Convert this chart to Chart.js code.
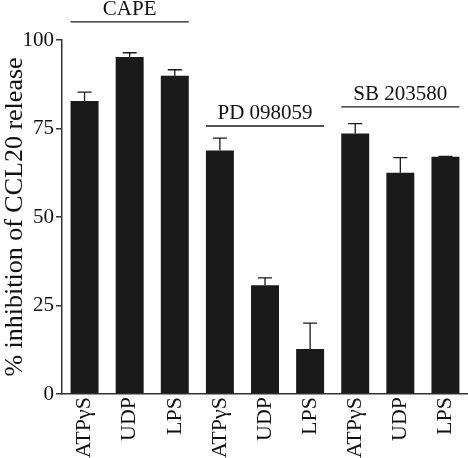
<!DOCTYPE html>
<html>
<head>
<meta charset="utf-8">
<script src="https://cdn.jsdelivr.net/npm/chart.js@4"></script>
<style>
  html, body { margin: 0; padding: 0; background: #fff; }
  #wrap { width: 468px; height: 458px; }
</style>
</head>
<body>
<div id="wrap"><canvas id="chart"></canvas></div>
<script>
const categories = ["ATPγS", "UDP", "LPS", "ATPγS", "UDP", "LPS", "ATPγS", "UDP", "LPS"];
const inhibition = [82.8, 95.2, 89.9, 68.8, 30.7, 12.7, 73.6, 62.5, 67.0];
const errorUp = [2.5, 1.2, 1.7, 3.5, 2.1, 7.3, 2.8, 4.3, 0.1];
const yTicks = [0, 25, 50, 75, 100];

const groupNames = ["CAPE", "PD 098059", "SB 203580"];
const groupFirst = [0, 3, 6];
const groupLast = [2, 5, 8];
const groupLineAt = [105.1, 75.7, 81.1];

const font = "'Liberation Serif', 'DejaVu Serif', serif";

const errorBars = {
    id: "errorBars",
    afterDatasetsDraw(chart) {
        const ctx = chart.ctx;
        const meta = chart.getDatasetMeta(0);
        const y = chart.scales.y;
        ctx.save();
        ctx.strokeStyle = "#1a1a1a";
        ctx.lineWidth = 1.3;
        meta.data.forEach((bar, i) => {
            const top = y.getPixelForValue(inhibition[i]);
            const cap = y.getPixelForValue(inhibition[i] + errorUp[i]);
            ctx.beginPath();
            ctx.moveTo(bar.x, top);
            ctx.lineTo(bar.x, cap);
            ctx.moveTo(bar.x - 7, cap);
            ctx.lineTo(bar.x + 7, cap);
            ctx.stroke();
        });
        ctx.restore();
    }
};

const groupLabels = {
    id: "groupLabels",
    afterDraw(chart) {
        const ctx = chart.ctx;
        const meta = chart.getDatasetMeta(0);
        const y = chart.scales.y;
        ctx.save();
        ctx.strokeStyle = "#1a1a1a";
        ctx.fillStyle = "#111";
        ctx.lineWidth = 1.3;
        ctx.font = "21px " + font;
        ctx.textAlign = "center";
        ctx.textBaseline = "alphabetic";
        groupNames.forEach((name, g) => {
            const a = meta.data[groupFirst[g]];
            const b = meta.data[groupLast[g]];
            const x0 = a.x - a.width / 2;
            const x1 = b.x + b.width / 2;
            const ly = y.getPixelForValue(groupLineAt[g]);
            ctx.beginPath();
            ctx.moveTo(x0, ly);
            ctx.lineTo(x1, ly);
            ctx.stroke();
            ctx.fillText(name, (x0 + x1) / 2, ly - 7);
        });
        ctx.restore();
    }
};

new Chart(document.getElementById("chart"), {
    type: "bar",
    data: {
        labels: categories,
        datasets: [{
            data: inhibition,
            backgroundColor: "#1a1a1a",
            borderWidth: 0,
            categoryPercentage: 1,
            barPercentage: 0.62
        }]
    },
    options: {
        responsive: true,
        maintainAspectRatio: false,
        animation: false,
        layout: {
            padding: { top: 40, right: 0, left: 0, bottom: 0 }
        },
        plugins: {
            legend: { display: false },
            tooltip: { enabled: false }
        },
        scales: {
            x: {
                grid: { display: false, drawTicks: false },
                border: { color: "#333", width: 1.5 },
                ticks: {
                    color: "#111",
                    minRotation: 90,
                    maxRotation: 90,
                    padding: 3,
                    font: { family: font, size: 22 }
                },
                afterFit: s => {
                    s.height = 64;
                    s.paddingLeft = 0;
                    s.paddingRight = 0;
                }
            },
            y: {
                min: 0,
                max: 100,
                afterBuildTicks: s => { s.ticks = yTicks.map(v => ({ value: v })); },
                grid: { drawOnChartArea: false, tickLength: 6, color: "#333", lineWidth: 1.5 },
                border: { color: "#333", width: 1.5 },
                ticks: {
                    color: "#111",
                    padding: 2,
                    font: { family: font, size: 21 }
                },
                title: {
                    display: true,
                    text: "% inhibition of CCL20 release",
                    color: "#111",
                    padding: 0,
                    font: { family: font, size: 26 }
                },
                afterFit: s => { s.width = 62; }
            }
        }
    },
    plugins: [errorBars, groupLabels]
});
</script>
</body>
</html>
